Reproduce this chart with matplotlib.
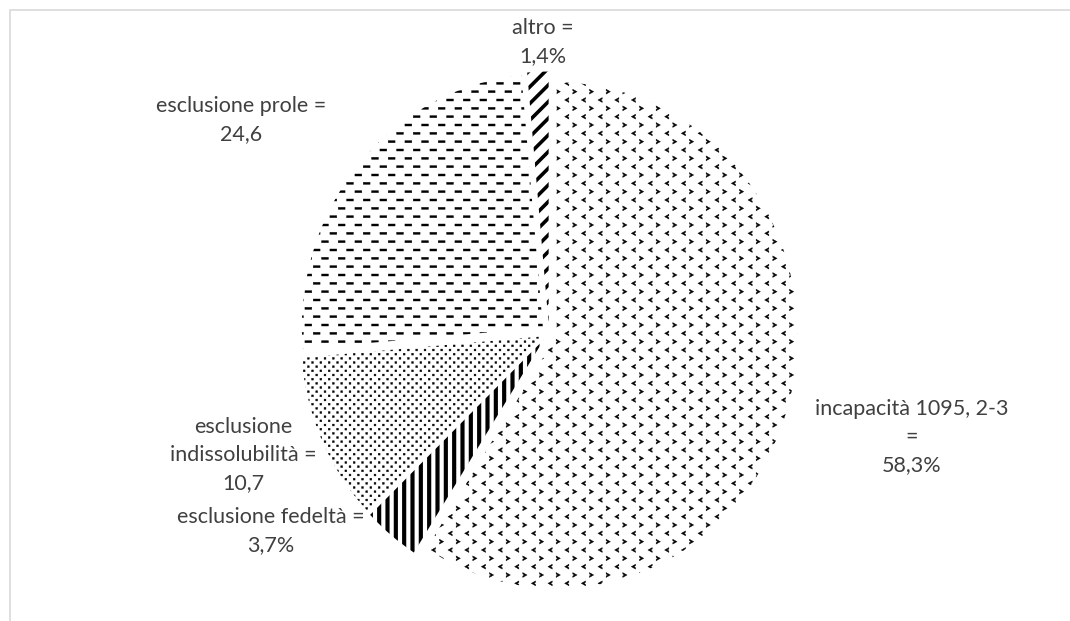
import warnings
import numpy as np
import matplotlib
matplotlib.use("Agg")
import matplotlib.pyplot as plt
import matplotlib.hatch as mhatch
from matplotlib.path import Path
from matplotlib.patches import Rectangle

# data
labels = ["incapacità 1095, 2-3\n=\n58,3%",
          "esclusione fedeltà =\n3,7%",
          "esclusione\nindissolubilità =\n10,7",
          "esclusione prole =\n24,6",
          "altro =\n1,4%"]
values = [58.3, 3.7, 10.7, 24.6, 1.4]

# label centres in pixels (x, y from top)
label_pos = [(912, 437), (271, 531), (243, 455), (241, 120), (543, 42)]
hatches = ["c", "||", "pp", "dd", "//"]
hatch_lw = [0.3, 3.0, 0.3, 0.3, 2.6]

W, H = 1070, 621
cx, cy, R = 549, 333, 241
explode_px = 8
sy = 1.05  # the reference pie is a little taller than wide


class StaggeredMarks(mhatch.HatchPatternBase):
    """Small filled marks on a staggered grid (rows half the column step)."""
    char = "?"
    cols = 6
    shapes = []

    def __init__(self, hatch, density):
        count = hatch.count(self.char)
        self.n = count * density // 6 * self.cols
        self.verts = []
        if self.n:
            step = 1.0 / self.n
            for r in range(2 * self.n + 1):
                y = r * step / 2
                if r % 2 == 0:
                    xs = np.arange(self.n + 1) * step
                else:
                    xs = np.arange(self.n) * step + step / 2
                shape = self.shapes[r % len(self.shapes)]
                for x in xs:
                    self.verts.append(shape + [x, y])
        self.num_vertices = sum(len(v) for v in self.verts)

    def set_vertices_and_codes(self, vertices, codes):
        i = 0
        for v in self.verts:
            k = len(v)
            vertices[i:i + k] = v
            codes[i:i + k] = Path.LINETO
            codes[i] = Path.MOVETO
            codes[i + k - 1] = Path.CLOSEPOLY
            i += k


def rect(w, h):
    return np.array([[-w / 2, -h / 2], [w / 2, -h / 2], [w / 2, h / 2],
                     [-w / 2, h / 2], [-w / 2, -h / 2]])


class Dashes(StaggeredMarks):
    char = "d"
    cols = 3
    shapes = [rect(0.068, 0.02)]


class Dots(StaggeredMarks):
    char = "p"
    cols = 6
    shapes = [rect(0.018, 0.018)]


class Chevrons(StaggeredMarks):
    char = "c"
    cols = 6
    shapes = [np.array([[0.022, -0.024], [-0.02, 0], [0.022, 0.024], [0.022, 0.01],
                        [0.006, 0], [0.022, -0.01], [0.022, -0.024]]),
              np.array([[-0.022, -0.024], [0.02, 0], [-0.022, 0.024], [-0.022, 0.01],
                        [-0.006, 0], [-0.022, -0.01], [-0.022, -0.024]])]


mhatch._hatch_types.extend([Dashes, Dots, Chevrons])
warnings.filterwarnings("ignore")

plt.rcParams['font.family'] = ['Lato', 'DejaVu Sans']

fig = plt.figure(figsize=(W / 100, H / 100), dpi=100)
ax = fig.add_axes([0, 0, 1, 1])

# chart area border (only top and left edges visible)
fig.patches.append(Rectangle((10 / W, -0.1), 1.2, 1.1 - 10 / H, fill=False,
                             edgecolor='#d9d9d9', linewidth=1.2,
                             transform=fig.transFigure))

wedges, _ = ax.pie(values, startangle=90, counterclock=False,
                   center=(cx, (H - cy) / sy), radius=R,
                   explode=[explode_px] * len(values), frame=True,
                   colors=['white'] * len(values),
                   wedgeprops=dict(edgecolor='black', linewidth=0))
ax.set_aspect('auto')
ax.set_xlim(0, W)
ax.set_ylim(0, H / sy)
ax.axis('off')

for w, hp, lw in zip(wedges, hatches, hatch_lw):
    w.set_hatch(hp)
    if hasattr(w, 'set_hatch_linewidth'):
        w.set_hatch_linewidth(lw)

for text, (x, y) in zip(labels, label_pos):
    fig.text(x / W, 1 - y / H, text, ha='center', va='center', fontsize=15.5,
             color='#404040', linespacing=1.5)

fig.savefig('out.png', dpi=100)
